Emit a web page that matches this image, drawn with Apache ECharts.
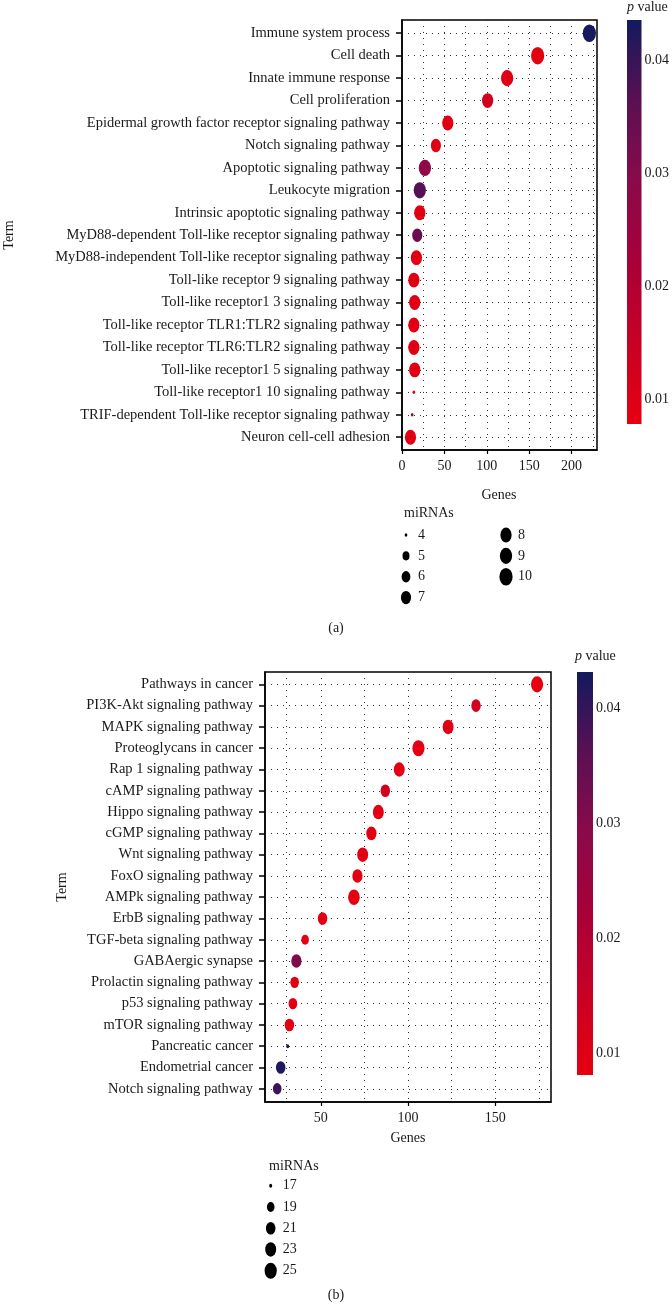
<!DOCTYPE html>
<html><head><meta charset="utf-8">
<script src="https://cdn.jsdelivr.net/npm/echarts@6/dist/echarts.min.js"></script>
<style>html,body{margin:0;padding:0;background:#fff}#c{width:672px;height:1310px}</style>
</head><body><div id="c"></div>
<script>
// ---------- Panel (a) data ----------
const termsA = [
  'Immune system process','Cell death','Innate immune response','Cell proliferation',
  'Epidermal growth factor receptor signaling pathway','Notch signaling pathway',
  'Apoptotic signaling pathway','Leukocyte migration','Intrinsic apoptotic signaling pathway',
  'MyD88-dependent Toll-like receptor signaling pathway','MyD88-independent Toll-like receptor signaling pathway',
  'Toll-like receptor 9 signaling pathway','Toll-like receptor1 3 signaling pathway',
  'Toll-like receptor TLR1:TLR2 signaling pathway','Toll-like receptor TLR6:TLR2 signaling pathway',
  'Toll-like receptor1 5 signaling pathway','Toll-like receptor1 10 signaling pathway',
  'TRIF-dependent Toll-like receptor signaling pathway','Neuron cell-cell adhesion'
];
const genesA = [221,160,124,101,54,40,27,21,21,18,17,14,15,14,14,15,14,12,10];
const pA     = [0.043,0.008,0.009,0.013,0.009,0.009,0.028,0.037,0.009,0.034,0.009,0.009,0.009,0.009,0.009,0.009,0.010,0.030,0.009];
const mirA   = [10,10,9,8,8,7,9,9,8,7,8,8,8,8,8,8,4,4,8];
const xTicksA = [0,50,100,150,200];
const xMinorA = [25,50,75,100,125,150,175,200,225];
const sizeLegendA = [4,5,6,7,8,9,10];

// ---------- Panel (b) data ----------
const termsB = [
  'Pathways in cancer','PI3K-Akt signaling pathway','MAPK signaling pathway','Proteoglycans in cancer',
  'Rap 1 signaling pathway','cAMP signaling pathway','Hippo signaling pathway','cGMP signaling pathway',
  'Wnt signaling pathway','FoxO signaling pathway','AMPk signaling pathway','ErbB signaling pathway',
  'TGF-beta signaling pathway','GABAergic synapse','Prolactin signaling pathway','p53 signaling pathway',
  'mTOR signaling pathway','Pancreatic cancer','Endometrial cancer','Notch signaling pathway'
];
const genesB = [174,139,123,106,95,87,83,79,74,71,69,51,41,36,35,34,32,31,27,25];
const pB     = [0.008,0.013,0.009,0.009,0.009,0.012,0.009,0.009,0.009,0.009,0.009,0.009,0.009,0.031,0.009,0.009,0.009,0.043,0.042,0.039];
const mirB   = [25,21,23,25,23,21,23,22,23,22,24,21,19,22,20,20,21,17,21,20];
const xTicksB = [50,100,150];
const xMinorB = [30,50,75,100,125,150,175];
const sizeLegendB = [17,19,21,23,25];

const pTicks = [0.01,0.02,0.03,0.04];

// ---------- styles ----------
const FONT = 'Liberation Serif';
const FS = 14;
const FSY = 14.5;
const TXT = '#1a1a1a';
const gradColors = ['#e6000f','#c80024','#a80038','#8a0a4a','#5a1052','#131a5e'];
const pMinA = 0.0078, pMaxA = 0.0436, pMinB = 0.0081, pMaxB = 0.0432;
const ASPECT = 1.32;

function sizer(vmin, vmax, wmin, wmax) {
  return function (v) {
    const t = Math.max(0, (v - vmin) / (vmax - vmin));
    const w = wmin + (wmax - wmin) * Math.sqrt(t);
    return [w, w * ASPECT];
  };
}
const sizeA = sizer(4, 10, 2.7, 13.2);
const sizeB = sizer(17, 25, 3.0, 12.2);

function rows(n){ const r=[]; for(let i=0;i<n;i++) r.push(i); return r; }

const dotted = {color:'#333', width:1, type:[1,5]};
const labelBase = {fontFamily: FONT, fontSize: FS, color: TXT};

function mainY(gridIndex, terms, min, max) {
  return {
    gridIndex, type:'value', inverse:true, min, max,
    axisLine:{show:true, lineStyle:{color:'#000', width:1.5}},
    axisTick:{show:true, length:6, customValues: rows(terms.length), lineStyle:{color:'#000', width:1.5}},
    axisLabel:{customValues: rows(terms.length), margin:12, formatter: v => terms[Math.round(v)],
               fontFamily: FONT, fontSize: FSY, color: TXT},
    splitLine:{show:true, lineStyle:dotted}
  };
}
function mainX(gridIndex, min, max, ticks) {
  return {
    gridIndex, type:'value', min, max,
    axisLine:{show:true, onZero:false, lineStyle:{color:'#000', width:1.5}},
    axisTick:{show:true, length:4, customValues: ticks, lineStyle:{color:'#000', width:1.2}},
    axisLabel:Object.assign({customValues: ticks, margin:9}, labelBase),
    splitLine:{show:false}
  };
}
function minorX(gridIndex, min, max, vals) {
  return {
    gridIndex, type:'value', min, max, position:'top',
    axisLine:{show:false}, axisLabel:{show:false},
    axisTick:{show:false, customValues: vals},
    splitLine:{show:true, lineStyle:dotted}
  };
}
function barY(gridIndex, min, max) {
  return {
    gridIndex, type:'value', min, max, position:'right',
    axisLine:{show:false},
    axisTick:{show:true, inside:true, length:16, customValues:pTicks, lineStyle:{color:'rgba(255,255,255,0.8)', width:1, type:[4,8]}},
    axisLabel:Object.assign({customValues:pTicks, margin:3, formatter: v => v.toFixed(2)}, labelBase),
    splitLine:{show:false}
  };
}
function gradient() {
  const stops = gradColors.slice().reverse().map((c,i)=>({offset:i/(gradColors.length-1), color:c}));
  return {type:'linear', x:0, y:0, x2:0, y2:1, colorStops: stops};
}
function legendSeries(xi, yi, vals, sizeFn, colOf, rowOf) {
  return {
    type:'scatter', xAxisIndex:xi, yAxisIndex:yi, silent:true,
    data: vals.map((v,i)=>{
      const s = sizeFn(v);
      return {value:[colOf(i), rowOf(i), v], symbolSize:s,
        label:{show:true, position:'right', distance: 12 - s[0]/2, formatter: String(v),
               fontFamily:FONT, fontSize:FS, color:TXT}};
    }),
    itemStyle:{color:'#000', opacity:1}
  };
}

const option = {
  animation:false,
  backgroundColor:'#fff',
  grid:[
    {left:402, top:20, width:195, height:430, show:true, borderColor:'#000', borderWidth:1.5, backgroundColor:'transparent'},
    {left:627, top:20, width:16, height:404, show:true, borderWidth:0, backgroundColor:gradient()},
    {left:406, top:535, width:100, height:62.6},
    {left:265, top:672, width:286, height:430, show:true, borderColor:'#000', borderWidth:1.5, backgroundColor:'transparent'},
    {left:577, top:672, width:16, height:403, show:true, borderWidth:0, backgroundColor:gradient()},
    {left:270.7, top:1185.7, width:100, height:85}
  ],
  xAxis:[
    mainX(0, 0, 230, xTicksA),
    minorX(0, 0, 230, xMinorA),
    {gridIndex:1, type:'value', show:false},
    {gridIndex:2, type:'value', min:0, max:1, show:false},
    mainX(3, 18, 182, xTicksB),
    minorX(3, 18, 182, xMinorB),
    {gridIndex:4, type:'value', show:false},
    {gridIndex:5, type:'value', min:0, max:1, show:false}
  ],
  yAxis:[
    mainY(0, termsA, -0.59, 18.57),
    barY(1, pMinA, pMaxA),
    {gridIndex:2, type:'value', min:0, max:3, inverse:true, show:false},
    mainY(3, termsB, -0.58, 19.62),
    barY(4, pMinB, pMaxB),
    {gridIndex:5, type:'value', min:0, max:4, inverse:true, show:false}
  ],
  visualMap:[
    {type:'continuous', show:false, seriesIndex:0, dimension:2, min:pMinA, max:pMaxA, inRange:{color:gradColors}},
    {type:'continuous', show:false, seriesIndex:2, dimension:2, min:pMinB, max:pMaxB, inRange:{color:gradColors}}
  ],
  series:[
    {type:'scatter', xAxisIndex:0, yAxisIndex:0, z:5,
     data: termsA.map((t,i)=>[genesA[i], i, pA[i], mirA[i]]),
     symbolSize: v => sizeA(v[3]), itemStyle:{opacity:1}},
    legendSeries(3, 2, sizeLegendA, sizeA, i => (i<4?0:1), i => (i<4?i:i-4)),
    {type:'scatter', xAxisIndex:4, yAxisIndex:3, z:5,
     data: termsB.map((t,i)=>[genesB[i], i, pB[i], mirB[i]]),
     symbolSize: v => sizeB(v[3]), itemStyle:{opacity:1}},
    legendSeries(7, 5, sizeLegendB, sizeB, i => 0, i => i)
  ],
  graphic:[
    {type:'text', x:9, y:235, rotation:Math.PI/2, style:{text:'Term', font:`${FS}px "${FONT}"`, fill:TXT, align:'center', verticalAlign:'middle'}},
    {type:'text', x:499, y:495, style:{text:'Genes', font:`${FS}px "${FONT}"`, fill:TXT, align:'center', verticalAlign:'middle'}},
    {type:'text', x:404, y:513, style:{text:'miRNAs', font:`${FS}px "${FONT}"`, fill:TXT, align:'left', verticalAlign:'middle'}},
    {type:'text', x:627, y:7, style:{text:'{i|p} value', font:`${FS}px "${FONT}"`, fill:TXT, align:'left', verticalAlign:'middle',
      rich:{i:{fontStyle:'italic', fontFamily:FONT, fontSize:FS, fill:TXT}}}},
    {type:'text', x:336, y:628, style:{text:'(a)', font:`${FS}px "${FONT}"`, fill:TXT, align:'center', verticalAlign:'middle'}},
    {type:'text', x:62, y:887, rotation:Math.PI/2, style:{text:'Term', font:`${FS}px "${FONT}"`, fill:TXT, align:'center', verticalAlign:'middle'}},
    {type:'text', x:408, y:1138, style:{text:'Genes', font:`${FS}px "${FONT}"`, fill:TXT, align:'center', verticalAlign:'middle'}},
    {type:'text', x:269, y:1166, style:{text:'miRNAs', font:`${FS}px "${FONT}"`, fill:TXT, align:'left', verticalAlign:'middle'}},
    {type:'text', x:575, y:656, style:{text:'{i|p} value', font:`${FS}px "${FONT}"`, fill:TXT, align:'left', verticalAlign:'middle',
      rich:{i:{fontStyle:'italic', fontFamily:FONT, fontSize:FS, fill:TXT}}}},
    {type:'text', x:336, y:1295, style:{text:'(b)', font:`${FS}px "${FONT}"`, fill:TXT, align:'center', verticalAlign:'middle'}}
  ]
};
const chart = echarts.init(document.getElementById('c'), null, {renderer:'canvas'});
chart.setOption(option);
</script>
</body></html>
